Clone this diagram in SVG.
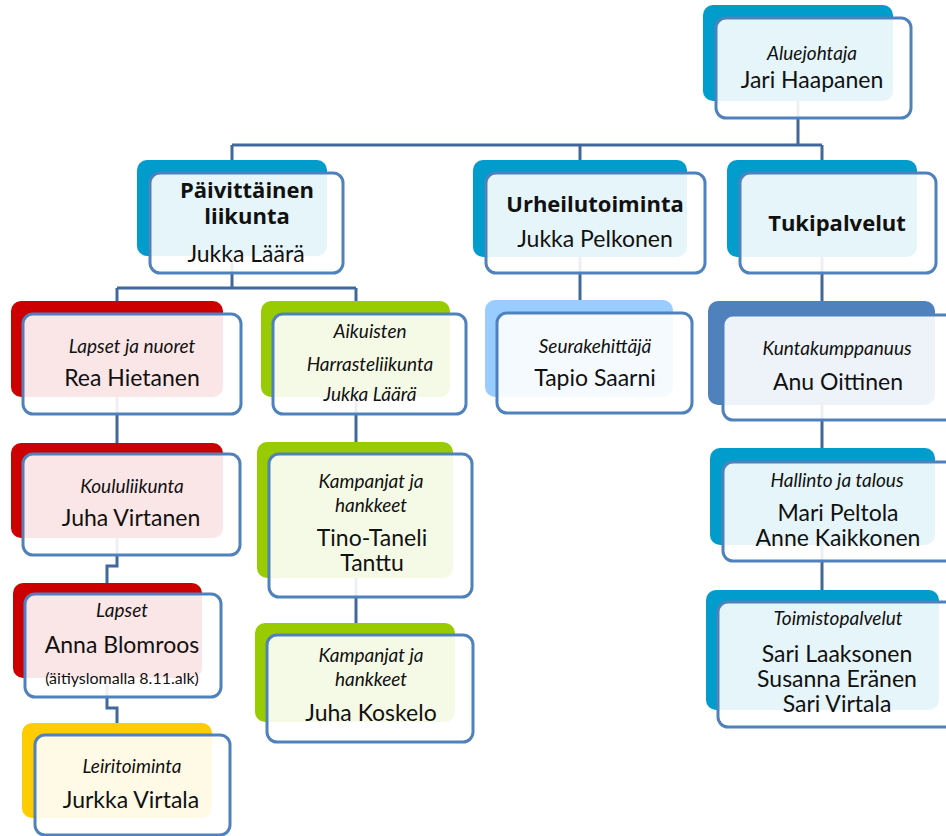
<svg xmlns="http://www.w3.org/2000/svg" width="946" height="836" viewBox="0 0 946 836">
<style>
.bk{stroke:none}
.fr{fill:#ffffff;fill-opacity:0.9;stroke:#4f81bd;stroke-width:3}
.c{fill:none;stroke:#41689c;stroke-width:3}
text{font-family:Lato,"Open Sans","Liberation Sans",sans-serif;fill:#111;text-anchor:middle}
.t{font-style:italic;font-size:19px}
.n{font-size:23px}
.b{font-family:"Open Sans",Lato,sans-serif;font-weight:bold;font-size:22px}
.s{font-size:16px}
</style>
<rect width="946" height="836" fill="#ffffff"/>
<g id="connectors">
<path class="c" d="M798 100V145M232 145H822M232 145V160M580 145V160M822 145V160"/>
<path class="c" d="M232 256V288M117 288H356M117 288V301M356 288V301"/>
<path class="c" d="M117 397V443M117 538V566H107V583M107 678V708H117V723"/>
<path class="c" d="M356 397V442M356 578V623"/>
<path class="c" d="M580 257V300"/>
<path class="c" d="M822 257V301M822 405V448M822 545V590"/>
</g>
<g id="n-aluejohtaja">
<rect class="bk" x="703" y="5" width="190" height="96" rx="10" fill="#009ccc"/>
<rect class="fr" x="716" y="18" width="195" height="100" rx="10"/>
<text class="t" x="812" y="60">Aluejohtaja</text>
<text class="n" x="812" y="88">Jari Haapanen</text>
</g>
<g id="n-paivittainen">
<rect class="bk" x="137" y="160" width="190" height="96" rx="10" fill="#009ccc"/>
<rect class="fr" x="150" y="173" width="193" height="100" rx="10"/>
<text class="b" x="247" y="198">Päivittäinen</text>
<text class="b" x="247" y="224">liikunta</text>
<text class="n" x="246" y="262">Jukka Läärä</text>
</g>
<g id="n-urheilu">
<rect class="bk" x="473" y="160" width="214" height="97" rx="10" fill="#009ccc"/>
<rect class="fr" x="486" y="173" width="219" height="100" rx="10"/>
<text class="b" x="595" y="212">Urheilutoiminta</text>
<text class="n" x="595" y="247">Jukka Pelkonen</text>
</g>
<g id="n-tuki">
<rect class="bk" x="727" y="160" width="190" height="97" rx="10" fill="#009ccc"/>
<rect class="fr" x="740" y="173" width="196" height="100" rx="10"/>
<text class="b" x="837" y="231">Tukipalvelut</text>
</g>
<g id="n-lapsetnuoret">
<rect class="bk" x="11" y="301" width="212" height="96" rx="10" fill="#cc0000"/>
<rect class="fr" x="23" y="314" width="218" height="100" rx="10"/>
<text class="t" x="132" y="353">Lapset ja nuoret</text>
<text class="n" x="132" y="386">Rea Hietanen</text>
</g>
<g id="n-aikuisten">
<rect class="bk" x="261" y="301" width="189" height="96" rx="10" fill="#99cc00"/>
<rect class="fr" x="273" y="314" width="193" height="100" rx="10"/>
<text class="t" x="370" y="338">Aikuisten</text>
<text class="t" x="370" y="371">Harrasteliikunta</text>
<text class="t" x="370" y="401">Jukka Läärä</text>
</g>
<g id="n-seura">
<rect class="bk" x="485" y="300" width="188" height="97" rx="10" fill="#99ccff"/>
<rect class="fr" x="497" y="313" width="195" height="100" rx="10"/>
<text class="t" x="595" y="353">Seurakehittäjä</text>
<text class="n" x="595" y="386">Tapio Saarni</text>
</g>
<g id="n-kunta">
<rect class="bk" x="708" y="301" width="227" height="104" rx="10" fill="#4f81bd"/>
<rect class="fr" x="723" y="315" width="232" height="105" rx="10"/>
<text class="t" x="837" y="355">Kuntakumppanuus</text>
<text class="n" x="838" y="390">Anu Oittinen</text>
</g>
<g id="n-koulu">
<rect class="bk" x="11" y="443" width="212" height="95" rx="10" fill="#cc0000"/>
<rect class="fr" x="23" y="454" width="217" height="101" rx="10"/>
<text class="t" x="132" y="493">Koululiikunta</text>
<text class="n" x="131" y="526">Juha Virtanen</text>
</g>
<g id="n-kampanjat1">
<rect class="bk" x="257" y="442" width="196" height="136" rx="10" fill="#99cc00"/>
<rect class="fr" x="269" y="454" width="203" height="143" rx="10"/>
<text class="t" x="371" y="488">Kampanjat ja</text>
<text class="t" x="371" y="512">hankkeet</text>
<text class="n" x="372" y="546">Tino-Taneli</text>
<text class="n" x="372" y="571">Tanttu</text>
</g>
<g id="n-hallinto">
<rect class="bk" x="710" y="448" width="225" height="97" rx="10" fill="#009ccc"/>
<rect class="fr" x="723" y="462" width="232" height="99" rx="10"/>
<text class="t" x="837" y="487">Hallinto ja talous</text>
<text class="n" x="838" y="521">Mari Peltola</text>
<text class="n" x="838" y="546">Anne Kaikkonen</text>
</g>
<g id="n-lapset">
<rect class="bk" x="13" y="583" width="189" height="95" rx="10" fill="#cc0000"/>
<rect class="fr" x="25" y="594" width="196" height="103" rx="10"/>
<text class="t" x="122" y="617">Lapset</text>
<text class="n" x="122" y="653">Anna Blomroos</text>
<text class="s" x="122" y="684">(äitiyslomalla 8.11.alk)</text>
</g>
<g id="n-kampanjat2">
<rect class="bk" x="255" y="623" width="200" height="99" rx="10" fill="#99cc00"/>
<rect class="fr" x="267" y="635" width="206" height="107" rx="10"/>
<text class="t" x="371" y="662">Kampanjat ja</text>
<text class="t" x="371" y="686">hankkeet</text>
<text class="n" x="371" y="721">Juha Koskelo</text>
</g>
<g id="n-toimisto">
<rect class="bk" x="706" y="590" width="233" height="120" rx="10" fill="#009ccc"/>
<rect class="fr" x="718" y="602" width="237" height="125" rx="10"/>
<text class="t" x="838" y="625">Toimistopalvelut</text>
<text class="n" x="837" y="662">Sari Laaksonen</text>
<text class="n" x="837" y="687">Susanna Eränen</text>
<text class="n" x="837" y="712">Sari Virtala</text>
</g>
<g id="n-leiri">
<rect class="bk" x="22" y="723" width="190" height="95" rx="10" fill="#ffcc00"/>
<rect class="fr" x="35" y="735" width="195" height="100" rx="10"/>
<text class="t" x="132" y="773">Leiritoiminta</text>
<text class="n" x="131" y="808">Jurkka Virtala</text>
</g>
</svg>
